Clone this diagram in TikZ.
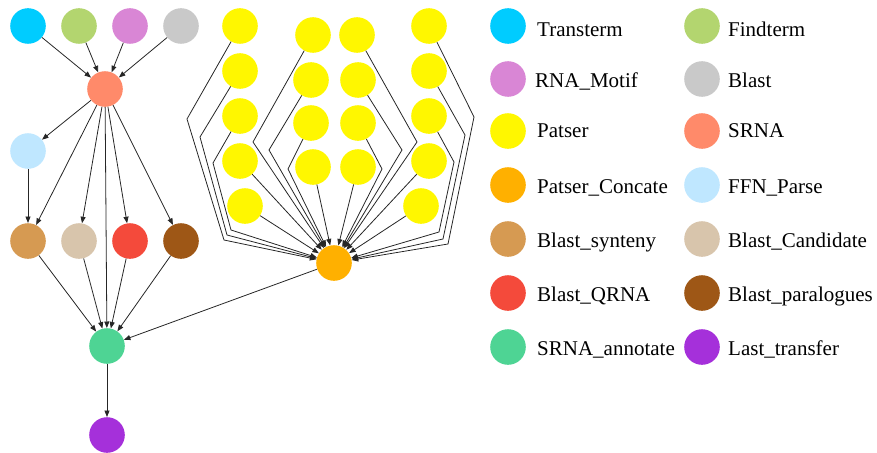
\documentclass[tikz,border=0pt]{standalone}
\usepackage{fontspec}
\setmainfont{Liberation Serif}
\usetikzlibrary{arrows.meta}
\definecolor{cTrans}{HTML}{00CCFF}
\definecolor{cFind}{HTML}{B3D56F}
\definecolor{cMotif}{HTML}{D986D5}
\definecolor{cBlast}{HTML}{C9C9C9}
\definecolor{cPatser}{HTML}{FFF700}
\definecolor{cSRNA}{HTML}{FF8A6A}
\definecolor{cConcat}{HTML}{FFB000}
\definecolor{cFFN}{HTML}{BFE7FF}
\definecolor{cSyn}{HTML}{D69A52}
\definecolor{cCand}{HTML}{D8C5AC}
\definecolor{cQRNA}{HTML}{F44A3B}
\definecolor{cPara}{HTML}{9E5716}
\definecolor{cAnn}{HTML}{4ED494}
\definecolor{cLast}{HTML}{A530DA}
\tikzset{
  dot/.style={circle,minimum size=35.6pt,inner sep=0pt,draw=none},
  edge/.style={draw=black!85,line width=0.8pt,-{Triangle[length=6.5pt,width=5pt]}},
  legtext/.style={anchor=base west,inner sep=0pt,font=\fontsize{21}{24}\selectfont}
}
\begin{document}
\begin{tikzpicture}[x=1pt,y=-1pt]
\useasboundingbox (0,0) rectangle (877,452);
% left cluster
\node[dot,fill=cTrans] (tt) at (28,26) {};
\node[dot,fill=cFind] (ft) at (79,26) {};
\node[dot,fill=cMotif] (rm) at (130,26) {};
\node[dot,fill=cBlast] (bl) at (181,26) {};
\node[dot,fill=cSRNA] (sr) at (105,89) {};
\node[dot,fill=cFFN] (ffn) at (28,151) {};
\node[dot,fill=cSyn] (bs) at (28,241) {};
\node[dot,fill=cCand] (bc) at (79,241) {};
\node[dot,fill=cQRNA] (bq) at (130,241) {};
\node[dot,fill=cPara] (bp) at (181,241) {};
\node[dot,fill=cAnn] (sa) at (107,346) {};
\node[dot,fill=cLast] (lt) at (107,435) {};
% yellow
\node[dot,fill=cPatser] (y1) at (240,26) {};
\node[dot,fill=cPatser] (y2) at (240,71) {};
\node[dot,fill=cPatser] (y3) at (240,116) {};
\node[dot,fill=cPatser] (y4) at (240,161) {};
\node[dot,fill=cPatser] (y5) at (245,206) {};
\node[dot,fill=cPatser] (y6) at (313,35) {};
\node[dot,fill=cPatser] (y7) at (311,80) {};
\node[dot,fill=cPatser] (y8) at (311,123) {};
\node[dot,fill=cPatser] (y9) at (313,167) {};
\node[dot,fill=cPatser] (y10) at (357,35) {};
\node[dot,fill=cPatser] (y11) at (358,80) {};
\node[dot,fill=cPatser] (y12) at (358,123) {};
\node[dot,fill=cPatser] (y13) at (358,167) {};
\node[dot,fill=cPatser] (y14) at (429,26) {};
\node[dot,fill=cPatser] (y15) at (429,71) {};
\node[dot,fill=cPatser] (y16) at (429,116) {};
\node[dot,fill=cPatser] (y17) at (429,161) {};
\node[dot,fill=cPatser] (y18) at (421,206) {};
\node[dot,fill=cConcat] (pc) at (334,263) {};
% left edges
\foreach \s in {tt,ft,rm,bl} \path[edge] (\s) -- (sr);
\foreach \t in {ffn,bs,bc,bq,bp,sa} \path[edge] (sr) -- (\t);
\path[edge] (ffn) -- (bs);
\foreach \s in {bs,bc,bq,bp} \path[edge] (\s) -- (sa);
\path[edge] (pc) -- (sa);
\path[edge] (sa) -- (lt);
% yellow edges
\path[edge] (y1) -- (187,119) -- (224,240) -- (pc);
\path[edge] (y2) -- (200,137) -- (227,235) -- (pc);
\path[edge] (y3) -- (213,163) -- (231,230) -- (pc);
\path[edge] (y4) -- (pc);
\path[edge] (y5) -- (pc);
\path[edge] (y6) -- (253,142) -- (pc);
\path[edge] (y7) -- (269,150) -- (pc);
\path[edge] (y8) -- (288,169) -- (pc);
\path[edge] (y9) -- (pc);
\path[edge] (y10) -- (417,142) -- (pc);
\path[edge] (y11) -- (402,150) -- (pc);
\path[edge] (y12) -- (382,169) -- (pc);
\path[edge] (y13) -- (pc);
\path[edge] (y14) -- (474,117) -- (448,244) -- (pc);
\path[edge] (y15) -- (465,135) -- (443,239) -- (pc);
\path[edge] (y16) -- (454,162) -- (439,232) -- (pc);
\path[edge] (y17) -- (pc);
\path[edge] (y18) -- (pc);
% legend
\node[dot,fill=cTrans] (l1) at (508,26) {};
\node[legtext] (l1t) at (537,37) {Transterm};
\node[dot,fill=cFind] (l2) at (702,26) {};
\node[legtext] (l2t) at (728,37) {Findterm};
\node[dot,fill=cMotif] (l3) at (508,79) {};
\node[legtext] (l3t) at (535,87) {RNA\_Motif};
\node[dot,fill=cBlast] (l4) at (702,79) {};
\node[legtext] (l4t) at (728,87) {Blast};
\node[dot,fill=cPatser] (l5) at (508,131) {};
\node[legtext] (l5t) at (537,137) {Patser};
\node[dot,fill=cSRNA] (l6) at (702,131) {};
\node[legtext] (l6t) at (728,137) {SRNA};
\node[dot,fill=cConcat] (l7) at (508,185) {};
\node[legtext] (l7t) at (537,193) {Patser\_Concate};
\node[dot,fill=cFFN] (l8) at (702,185) {};
\node[legtext] (l8t) at (728,193) {FFN\_Parse};
\node[dot,fill=cSyn] (l9) at (508,239) {};
\node[legtext] (l9t) at (537,247) {Blast\_synteny};
\node[dot,fill=cCand] (l10) at (702,239) {};
\node[legtext] (l10t) at (728,247) {Blast\_Candidate};
\node[dot,fill=cQRNA] (l11) at (508,293) {};
\node[legtext] (l11t) at (537,301) {Blast\_QRNA};
\node[dot,fill=cPara] (l12) at (702,293) {};
\node[legtext] (l12t) at (728,301) {Blast\_paralogues};
\node[dot,fill=cAnn] (l13) at (508,347) {};
\node[legtext] (l13t) at (537,355) {SRNA\_annotate};
\node[dot,fill=cLast] (l14) at (702,347) {};
\node[legtext] (l14t) at (728,355) {Last\_transfer};
\end{tikzpicture}
\end{document}
